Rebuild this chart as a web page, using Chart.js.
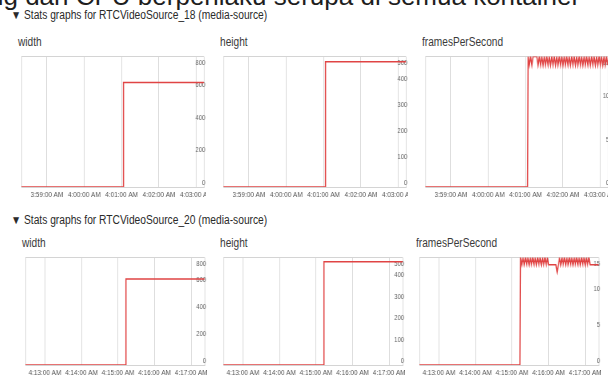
<!DOCTYPE html>
<html lang="en">
<head>
<meta charset="utf-8">
<title>Stats graphs for RTCVideoSource</title>
<script src="https://cdn.jsdelivr.net/npm/chart.js"></script>
<style>
  html, body { margin: 0; padding: 0; background: #fff; }
  body { position: relative; width: 608px; height: 379px; overflow: hidden;
         font-family: "Liberation Sans", Arial, sans-serif; }
  .txt { position: absolute; white-space: nowrap; line-height: 1; transform-origin: 0 50%; }
  .cropped { font-size: 26px; line-height: 26px; color: #1e1e1e; }
  .heading { font-size: 12px; color: #2a2a2a; }
  .gtitle { font-size: 12.5px; color: #3a3a3a; }
  .box { position: absolute; transform-origin: 0 0; }
</style>
</head>
<body>

<div class="txt cropped" id="id-cropped" style="left:-11px; top:-17px;">ng dan CPU berperilaku serupa di semua kontainer</div>

<script>
// ---- data ----
const groups = ['RTCVideoSource_18', 'RTCVideoSource_20'];
const stats = ['width', 'height', 'framesPerSecond'];

// x axis: seconds counted from the first labelled minute of each group
const tickSecs = [0, 60, 120, 180, 240];
const timeLabels18 = ['3:59:00 AM', '4:00:00 AM', '4:01:00 AM', '4:02:00 AM', '4:03:00 AM'];
const timeLabels20 = ['4:13:00 AM', '4:14:00 AM', '4:15:00 AM', '4:16:00 AM', '4:17:00 AM'];
const range18 = [-41, 252];
const range20 = [-32, 262];

// y axis labels
const yTicksWidth = [0, 200, 400, 600, 800];
const yTicksHeight = [0, 100, 200, 300, 400, 500];
const yTicksFps = [0, 5, 10, 15];

// width / height: a single jump when the camera starts
const sizeTimes18 = [-41, 123, 123, 252];
const width18 = [0, 0, 640, 640];
const height18 = [0, 0, 480, 480];
const sizeTimes20 = [-32, 133, 133, 262];
const width20 = [0, 0, 640, 640];
const height20 = [0, 0, 480, 480];

// framesPerSecond: 0 before the start, then one sample every 2 s
const fpsStart18 = 123;
const fps18 = [15,14,15,14,15,15,15,15,
  14,15,14,15,14,15,14,15,14,15,
  14,15,14,15,14,15,14,15,14,15,
  14,15,14,15,14,15,14,15,14,15,
  14,15,14,15,14,15,14,15,14,15,
  14,15,14,15,14,15,14,15,14,15,
  14,15,14,15,14,15,14];
const fpsStart20 = 133;
const fps20 = [15,14,15,14,15,14,15,14,15,14,15,14,
  15,14,15,14,15,14,15,14,15,14,15,14,
  14,14,14,14,14,14,
  13,14,
  15,14,15,14,15,14,15,14,15,14,15,14,15,
  14,15,14,15,14,15,14,15,14,15,14,15,14,
  14,14,14,14,14,14,14];

// ---- layout ----
const S = 0.8; // the screenshot is squeezed horizontally
const rows = [
  { headY: 15, titleY: 42, top: 50, plotH: 137 },
  { headY: 220, titleY: 243, top: 251, plotH: 114 }
];
const cols18 = [19, 221, 423];
const cols20 = [23, 221, 417];

function addText(cls, text, x, yc) {
  const d = document.createElement('div');
  d.className = 'txt ' + cls;
  d.textContent = text;
  document.body.appendChild(d);
  const fs = parseFloat(getComputedStyle(d).fontSize);
  d.style.left = x + 'px';
  d.style.top = (yc - fs / 2) + 'px';
  return d;
}

function squeeze(els, refEl, target) {
  const k = target / refEl.offsetWidth;
  els.forEach(e => e.style.transform = 'scaleX(' + k + ')');
}

function makeChart(x, y, plotW, plotH, times, values, range, labels, yTicks) {
  const axisH = 14;
  const wrap = document.createElement('div');
  wrap.className = 'box';
  wrap.style.left = x + 'px';
  wrap.style.top = y + 'px';
  wrap.style.transform = 'scaleX(' + S + ')';
  const cv = document.createElement('canvas');
  cv.width = Math.round(plotW / S);
  cv.height = plotH + axisH;
  wrap.appendChild(cv);
  document.body.appendChild(wrap);

  const yMax = yTicks[yTicks.length - 1];
  const tickFont = { family: '"Liberation Sans", Arial, sans-serif', size: 7.5 };

  return new Chart(cv, {
    type: 'line',
    data: {
      datasets: [{
        data: times.map((t, i) => ({ x: t, y: values[i] })),
        borderColor: '#e04444',
        borderWidth: 1.5,
        pointRadius: 0,
        tension: 0
      }]
    },
    options: {
      responsive: false,
      animation: false,
      layout: { padding: 0, autoPadding: false },
      plugins: { legend: { display: false }, tooltip: { enabled: false } },
      scales: {
        x: {
          type: 'linear', min: range[0], max: range[1],
          afterBuildTicks: s => { s.ticks = [range[0]].concat(tickSecs, [range[1]]).map(v => ({ value: v })); },
          afterFit: s => { s.height = axisH; },
          ticks: {
            autoSkip: false, maxRotation: 0, padding: 3, color: '#555',
            font: { family: tickFont.family, size: 8 },
            callback: v => { const i = tickSecs.indexOf(v); return i < 0 ? '' : labels[i]; }
          },
          grid: { color: '#dadada', drawTicks: false },
          border: { display: true, color: '#d4d4d4' }
        },
        y: {
          position: 'right', min: 0, max: yMax,
          afterBuildTicks: s => { s.ticks = yTicks.map(v => ({ value: v })); },
          afterFit: s => { s.width = 0; },
          ticks: {
            mirror: true, padding: 2, labelOffset: -4, color: '#666', font: tickFont,
            callback: v => v === yMax ? '' : String(v)
          },
          grid: { drawTicks: false, color: c => c.tick && c.tick.value === yMax ? '#d4d4d4' : 'rgba(0,0,0,0)' },
          border: { display: false }
        },
        yTop: {
          position: 'right', min: 0, max: yMax,
          afterBuildTicks: s => { s.ticks = [{ value: yMax }]; },
          afterFit: s => { s.width = 0; },
          ticks: { mirror: true, padding: 2, labelOffset: 6, color: '#666', font: tickFont },
          grid: { display: false },
          border: { display: false }
        }
      }
    }
  });
}

function seriesFps(start, vals, range) {
  const t = [range[0], start];
  const v = [0, 0];
  vals.forEach((f, i) => { t.push(start + 1 + 2 * i); v.push(f); });
  return [t, v];
}

// headings
const h1 = addText('heading', '\u25BC Stats graphs for ' + groups[0] + ' (media-source)', 11, rows[0].headY);
const h2 = addText('heading', '\u25BC Stats graphs for ' + groups[1] + ' (media-source)', 11, rows[1].headY);
squeeze([h1, h2], h1, 256);

// graph titles
const titles = [];
[cols18, cols20].forEach((cols, r) => {
  stats.forEach((name, c) => titles.push(addText('gtitle', name, cols[c] - 1, rows[r].titleY)));
});
squeeze(titles, titles[2], 81);

// row 1
const plotW18 = 187;
makeChart(cols18[0], rows[0].top, plotW18, rows[0].plotH, sizeTimes18, width18, range18, timeLabels18, yTicksWidth);
makeChart(cols18[1], rows[0].top, plotW18, rows[0].plotH, sizeTimes18, height18, range18, timeLabels18, yTicksHeight);
const f18 = seriesFps(fpsStart18, fps18, range18);
makeChart(cols18[2], rows[0].top, plotW18, rows[0].plotH, f18[0], f18[1], range18, timeLabels18, yTicksFps);

// row 2
const plotW20 = 184;
makeChart(cols20[0], rows[1].top, plotW20, rows[1].plotH, sizeTimes20, width20, range20, timeLabels20, yTicksWidth);
makeChart(cols20[1], rows[1].top, plotW20, rows[1].plotH, sizeTimes20, height20, range20, timeLabels20, yTicksHeight);
const f20 = seriesFps(fpsStart20, fps20, range20);
makeChart(cols20[2], rows[1].top, plotW20, rows[1].plotH, f20[0], f20[1], range20, timeLabels20, yTicksFps);
</script>
</body>
</html>
